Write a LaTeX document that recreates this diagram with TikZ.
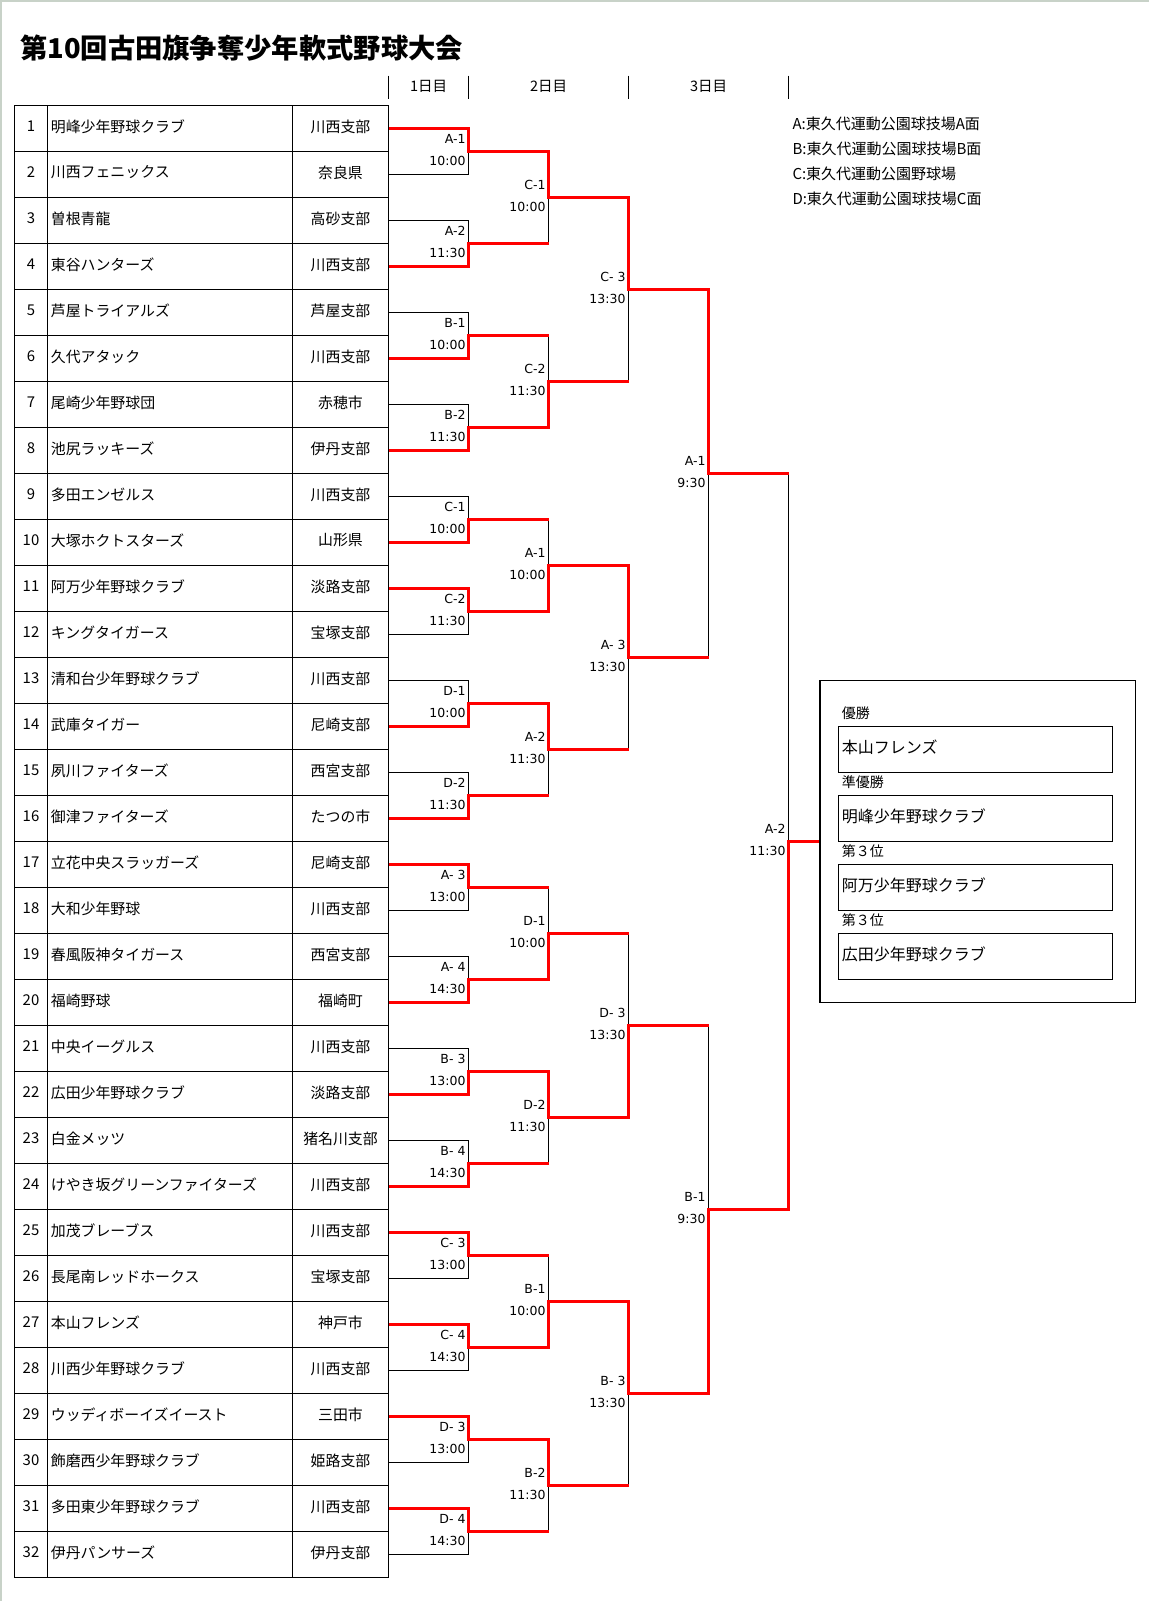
\documentclass[tikz,border=0pt]{standalone}
\usepackage{fontspec}
\setmainfont{Noto Sans CJK JP}
\newfontfamily\labfont{DejaVu Sans}
\definecolor{winred}{HTML}{FF0000}
\definecolor{framecol}{HTML}{C8D2C8}
\newcommand\mkred[3]{\pgfmathtruncatemacro\myrp{#1-1}\pgfmathtruncatemacro\mykk{2*#2-1+#3}%
  \draw[win] (L-\myrp-\mykk) -- (R-\myrp-\mykk) -- (L-#1-#2) -- (R-#1-#2);}
\newcommand\mklabs[4]{% level, match, top, bottom
  \node[lab] (ta-#1-#2) at ([shift={(-3,-13)}]L-#1-#2) {#3};
  \node[lab] (tb-#1-#2) at ([shift={(-3,9)}]L-#1-#2) {#4};}
\begin{document}
\begin{tikzpicture}[x=1pt,y=-1pt,
  thinline/.style={line width=1pt, black},
  win/.style={line width=3.4pt, winred, line join=miter},
  gridline/.style={line width=1.1pt, black},
  lab/.style={font=\labfont\fontsize{12.5}{14}\selectfont, inner sep=0pt, anchor=east},
  team/.style={font=\fontsize{14.9}{17}\selectfont, inner sep=0pt},
  hdr/.style={font=\fontsize{14.5}{17}\selectfont, inner sep=0pt},
  legend/.style={font=\fontsize{15}{17}\selectfont, inner sep=0pt, anchor=west},
  reslab/.style={font=\fontsize{14}{16}\selectfont, inner sep=0pt, anchor=west},
  resname/.style={font=\fontsize{16}{19}\selectfont, inner sep=0pt, anchor=west}]
\useasboundingbox (0,0) rectangle (1149,1601);
\fill[white] (0,0) rectangle (1149,1601);
\draw[framecol, line width=2pt] (1,1601) -- (1,0.6) -- (1149,0.6);

% title
\node[anchor=west, inner sep=0pt, font=\bfseries\fontsize{27.3}{31}\selectfont] (title) at (20,48) {第10回古田旗争奪少年軟式野球大会};

% day header
\foreach \x in {388.7,468.7,628.7,788.7} \draw[thinline] (\x,75.7) -- (\x,99);
\node[hdr] (d1) at (428.7,86) {1日目};
\node[hdr] (d2) at (548.7,86) {2日目};
\node[hdr] (d3) at (708.7,86) {3日目};

% legend
\node[legend] (lgA) at (792.3,124.3) {A:東久代運動公園球技場A面};
\node[legend] (lgB) at (792.3,149.1) {B:東久代運動公園球技場B面};
\node[legend] (lgC) at (792.3,173.9) {C:東久代運動公園野球場};
\node[legend] (lgD) at (792.3,198.7) {D:東久代運動公園球技場C面};

% table
\draw[gridline] (14.3,105.7) rectangle (388.7,1577.7);
\foreach \x in {47.7,292.3} \draw[gridline] (\x,105.7) -- (\x,1577.7);
\foreach \k in {1,...,31} \draw[gridline] (14.3,{105.7+46*\k}) -- (388.7,{105.7+46*\k});
\foreach \i/\t/\b in {1/明峰少年野球クラブ/川西支部,2/川西フェニックス/奈良県,3/曽根青龍/高砂支部,4/東谷ハンターズ/川西支部,5/芦屋トライアルズ/芦屋支部,6/久代アタック/川西支部,7/尾崎少年野球団/赤穂市,8/池尻ラッキーズ/伊丹支部,9/多田エンゼルス/川西支部,10/大塚ホクトスターズ/山形県,11/阿万少年野球クラブ/淡路支部,12/キングタイガース/宝塚支部,13/清和台少年野球クラブ/川西支部,14/武庫タイガー/尼崎支部,15/夙川ファイターズ/西宮支部,16/御津ファイターズ/たつの市,17/立花中央スラッガーズ/尼崎支部,18/大和少年野球/川西支部,19/春風阪神タイガース/西宮支部,20/福崎野球/福崎町,21/中央イーグルス/川西支部,22/広田少年野球クラブ/淡路支部,23/白金メッツ/猪名川支部,24/けやき坂グリーンファイターズ/川西支部,25/加茂ブレーブス/川西支部,26/長尾南レッドホークス/宝塚支部,27/本山フレンズ/神戸市,28/川西少年野球クラブ/川西支部,29/ウッディボーイズイースト/三田市,30/飾磨西少年野球クラブ/姫路支部,31/多田東少年野球クラブ/川西支部,32/伊丹パンサーズ/伊丹支部}{
  \node[team] (no\i) at (31,{80.4+46*\i}) {\i};
  \node[team, anchor=west] (nm\i) at (50.7,{80.4+46*\i}) {\t};
  \node[team] (br\i) at (340.5,{80.4+46*\i}) {\b};
}

% bracket coordinates
\foreach \r in {0,...,5}{
  \pgfmathtruncatemacro\mynn{32/2^\r}
  \pgfmathtruncatemacro\mypp{2^\r}
  \pgfmathsetmacro\myxa{388.7+80*\r}
  \pgfmathsetmacro\myxb{ifthenelse(\r<5,388.7+80*(\r+1),820)}
  \foreach \m in {1,...,\mynn}{
    \pgfmathsetmacro\myyy{82.7+23*(2*\m*\mypp-\mypp+1)}
    \coordinate (L-\r-\m) at (\myxa,\myyy);
    \coordinate (R-\r-\m) at (\myxb,\myyy);
  }
}

% black lines
\foreach \r in {0,...,4}{
  \pgfmathtruncatemacro\mynn{32/2^\r}
  \foreach \m in {1,...,\mynn} \draw[thinline] (L-\r-\m) -- (R-\r-\m);
}
\foreach \r in {1,...,5}{
  \pgfmathtruncatemacro\mynn{32/2^\r}
  \pgfmathtruncatemacro\myq{\r-1}
  \foreach \m in {1,...,\mynn}{
    \pgfmathtruncatemacro\myka{2*\m-1}
    \pgfmathtruncatemacro\mykb{2*\m}
    \draw[thinline] (R-\myq-\myka) -- (R-\myq-\mykb);
  }
}

% winners (0 = upper, 1 = lower)
\foreach \m/\w in {1/0,2/1,3/1,4/1,5/1,6/0,7/1,8/1,9/0,10/1,11/1,12/1,13/0,14/0,15/0,16/0} {\mkred{1}{\m}{\w}}
\foreach \m/\w in {1/0,2/1,3/1,4/0,5/1,6/0,7/1,8/0} {\mkred{2}{\m}{\w}}
\foreach \m/\w in {1/0,2/0,3/1,4/0} {\mkred{3}{\m}{\w}}
\foreach \m/\w in {1/0,2/1} {\mkred{4}{\m}{\w}}
\mkred{5}{1}{1}

% match labels
\foreach \m/\a/\b in {1/A-1/10:00,2/A-2/11:30,3/B-1/10:00,4/B-2/11:30,5/C-1/10:00,6/C-2/11:30,7/D-1/10:00,8/D-2/11:30,9/A- 3/13:00,10/A- 4/14:30,11/B- 3/13:00,12/B- 4/14:30,13/C- 3/13:00,14/C- 4/14:30,15/D- 3/13:00,16/D- 4/14:30} {\mklabs{1}{\m}{\a}{\b}}
\foreach \m/\a/\b in {1/C-1/10:00,2/C-2/11:30,3/A-1/10:00,4/A-2/11:30,5/D-1/10:00,6/D-2/11:30,7/B-1/10:00,8/B-2/11:30} {\mklabs{2}{\m}{\a}{\b}}
\foreach \m/\a/\b in {1/C- 3/13:30,2/A- 3/13:30,3/D- 3/13:30,4/B- 3/13:30} {\mklabs{3}{\m}{\a}{\b}}
\mklabs{4}{1}{A-1}{9:30}
\mklabs{4}{2}{B-1}{9:30}
\mklabs{5}{1}{A-2}{11:30}

% results box
\draw[line width=1.1pt] (820,680.7) rectangle (1135.7,1002.3);
\foreach \k/\l/\n in {0/優勝/本山フレンズ,1/準優勝/明峰少年野球クラブ,2/第３位/阿万少年野球クラブ,3/第３位/広田少年野球クラブ}{
  \draw[line width=1.1pt] (838.3,{726.3+69*\k}) rectangle (1112.7,{772.3+69*\k});
  \node[reslab] (rl\k) at (841.7,{713.3+69*\k}) {\l};
  \node[resname] (rn\k) at (841.7,{747.3+69*\k}) {\n};
}
\end{tikzpicture}
\end{document}
